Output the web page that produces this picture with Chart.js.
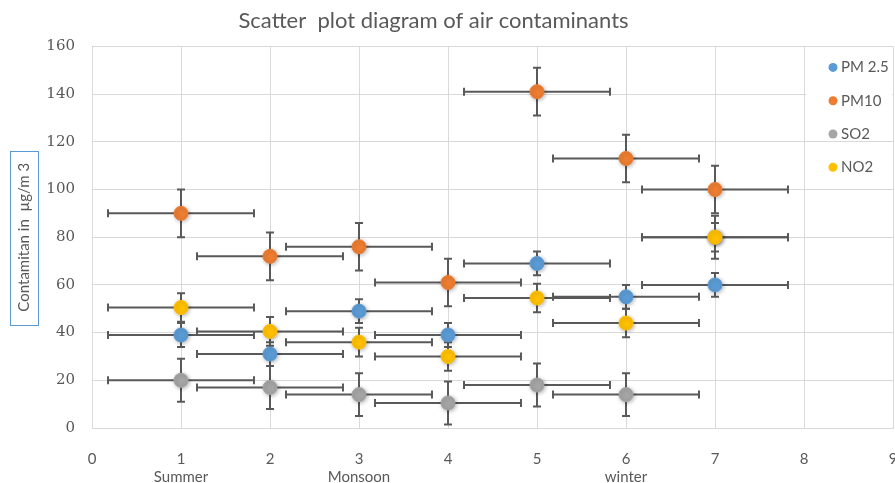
<!doctype html>
<html lang="en">
<head>
<meta charset="utf-8">
<title>Scatter plot diagram of air contaminants</title>
<script src="https://cdn.jsdelivr.net/npm/chart.js"></script>
<style>
  html, body { margin: 0; padding: 0; background: #fff; overflow: hidden; }
</style>
</head>
<body>
<canvas id="airChart" width="895" height="483"></canvas>
<script>
// values
const seasons = ['', 'Summer', '', 'Monsoon', '', '', 'winter', '', '', ''];
const sampleX = [1, 2, 3, 4, 5, 6, 7];
const pm25 = [39, 31, 49, 39, 69, 55, 60];
const pm10 = [90, 72, 76, 61, 141, 113, 100];
const so2 = [20, 17, 14, 10.5, 18, 14, 80];
const no2 = [50.5, 40.5, 36, 30, 54.5, 44, 80];
const seriesNames = ['PM 2.5', 'PM10', 'SO2', 'NO2'];
const yErrors = [5, 10, 9, 6];
const xError = 0.82;

const seriesValues = [pm25, pm10, so2, no2];
const colors = ['#5b9bd5', '#ed7d31', '#a5a5a5', '#ffc000'];

const datasets = seriesNames.map((name, i) => ({
  label: name,
  data: sampleX.map((x, j) => ({ x: x, y: seriesValues[i][j], xErr: xError, yErr: yErrors[i] })),
  backgroundColor: colors[i],
  borderColor: colors[i],
  borderWidth: 1,
  pointRadius: 7,
  pointHoverRadius: 7,
  order: seriesNames.length - i   // later series drawn on top, like Excel
}));

// let the plot run to the right edge like the original (the "9" gets cut),
// and move the title a bit left
const plotFit = {
  id: 'plotFit',
  afterLayout(chart) {
    const x = chart.scales.x;
    const right = chart.width - 2;
    chart.chartArea.right = right;
    chart.chartArea.width = right - chart.chartArea.left;
    x.right = right;
    x.width = right - x.left;
    x.configure();
    if (chart.titleBlock) {
      chart.titleBlock.right = chart.width - 28;
      chart.titleBlock.width = chart.titleBlock.right - chart.titleBlock.left;
    }
  }
};

// error bars, drawn under the markers
const errorBars = {
  id: 'errorBars',
  beforeDatasetsDraw(chart) {
    const { ctx, scales: { x, y } } = chart;
    const cap = 4;
    ctx.save();
    ctx.strokeStyle = '#595959';
    ctx.lineWidth = 2;
    chart.data.datasets.forEach(ds => {
      ds.data.forEach(p => {
        const px = x.getPixelForValue(p.x);
        const py = y.getPixelForValue(p.y);
        const xl = x.getPixelForValue(p.x - p.xErr);
        const xr = x.getPixelForValue(p.x + p.xErr);
        const yt = y.getPixelForValue(p.y + p.yErr);
        const yb = y.getPixelForValue(p.y - p.yErr);
        ctx.beginPath();
        ctx.moveTo(xl, py); ctx.lineTo(xr, py);
        ctx.moveTo(xl, py - cap); ctx.lineTo(xl, py + cap);
        ctx.moveTo(xr, py - cap); ctx.lineTo(xr, py + cap);
        ctx.moveTo(px, yt); ctx.lineTo(px, yb);
        ctx.moveTo(px - cap, yt); ctx.lineTo(px + cap, yt);
        ctx.moveTo(px - cap, yb); ctx.lineTo(px + cap, yb);
        ctx.stroke();
      });
    });
    ctx.restore();
  }
};

// soft shadow under markers
const markerShadow = {
  id: 'markerShadow',
  beforeDatasetDraw(chart) {
    const ctx = chart.ctx;
    ctx.save();
    ctx.shadowColor = 'rgba(0,0,0,0.3)';
    ctx.shadowBlur = 4;
    ctx.shadowOffsetX = 1;
    ctx.shadowOffsetY = 1;
  },
  afterDatasetDraw(chart) {
    chart.ctx.restore();
  }
};

// legend sitting inside the plot, top right
const insideLegend = {
  id: 'insideLegend',
  beforeDatasetsDraw(chart) {
    const { ctx, chartArea, scales: { x } } = chart;
    const left = x.getPixelForValue(8) + 2;
    ctx.save();
    ctx.fillStyle = '#ffffff';
    ctx.fillRect(left, chartArea.top + 4, chartArea.right - left - 1, 68);
    ctx.font = '15px Lato';
    ctx.textBaseline = 'middle';
    chart.data.datasets.forEach((ds, i) => {
      const cy = chartArea.top + 21 + i * 33.3;
      ctx.fillStyle = ds.backgroundColor;
      ctx.beginPath();
      ctx.arc(left + 27, cy, 4.5, 0, Math.PI * 2);
      ctx.fill();
      ctx.fillStyle = '#595959';
      ctx.fillText(ds.label, left + 35, cy);
    });
    ctx.restore();
  }
};

// blue box around the y axis title
const titleBox = {
  id: 'titleBox',
  afterDraw(chart) {
    const { ctx } = chart;
    const sc = chart.scales.y;
    const t = sc.options.title;
    const cx = sc.left + (t.font.size * 1.2) / 2 + t.padding.top;
    const cy = (sc.top + sc.bottom) / 2;
    ctx.save();
    ctx.font = t.font.size + 'px ' + t.font.family;
    const w = ctx.measureText(t.text).width;
    ctx.strokeStyle = '#5b9bd5';
    ctx.lineWidth = 1;
    ctx.strokeRect(Math.round(cx - 14) + 0.5, Math.round(cy - w / 2 - 12) + 0.5, 28, Math.round(w + 25));
    ctx.restore();
  }
};

new Chart(document.getElementById('airChart'), {
  type: 'scatter',
  data: { datasets: datasets },
  options: {
    responsive: false,
    animation: false,
    events: [],
    layout: { padding: 0 },
    plugins: {
      legend: { display: false },
      tooltip: { enabled: false },
      title: {
        display: true,
        text: 'Scatter  plot diagram of air contaminants',
        color: '#595959',
        font: { family: 'Lato', size: 22, weight: 'normal' },
        padding: { top: 8, bottom: 12 }
      }
    },
    scales: {
      x: {
        type: 'linear',
        min: 0,
        max: 9,
        ticks: {
          stepSize: 1,
          padding: 22,
          color: '#595959',
          font: { family: 'Lato', size: 15 },
          callback: v => [String(v), seasons[v] || '']
        },
        grid: { color: '#d9d9d9', drawTicks: false },
        border: { color: '#d9d9d9' },
        afterFit(scale) {
          scale.height = 55;
        }
      },
      y: {
        min: 0,
        max: 160,
        ticks: {
          stepSize: 20,
          padding: 17,
          color: '#595959',
          font: { family: 'DejaVu Serif', size: 15 }
        },
        grid: { color: '#d9d9d9', drawTicks: false },
        border: { color: '#d9d9d9' },
        title: {
          display: true,
          text: 'Contamitan in  µg/m 3',
          color: '#595959',
          font: { family: 'Lato', size: 15 },
          padding: { top: 15, bottom: 0 }
        },
        afterFit(scale) {
          scale.width = 92;
        }
      }
    }
  },
  plugins: [plotFit, errorBars, markerShadow, insideLegend, titleBox]
});
</script>
</body>
</html>
